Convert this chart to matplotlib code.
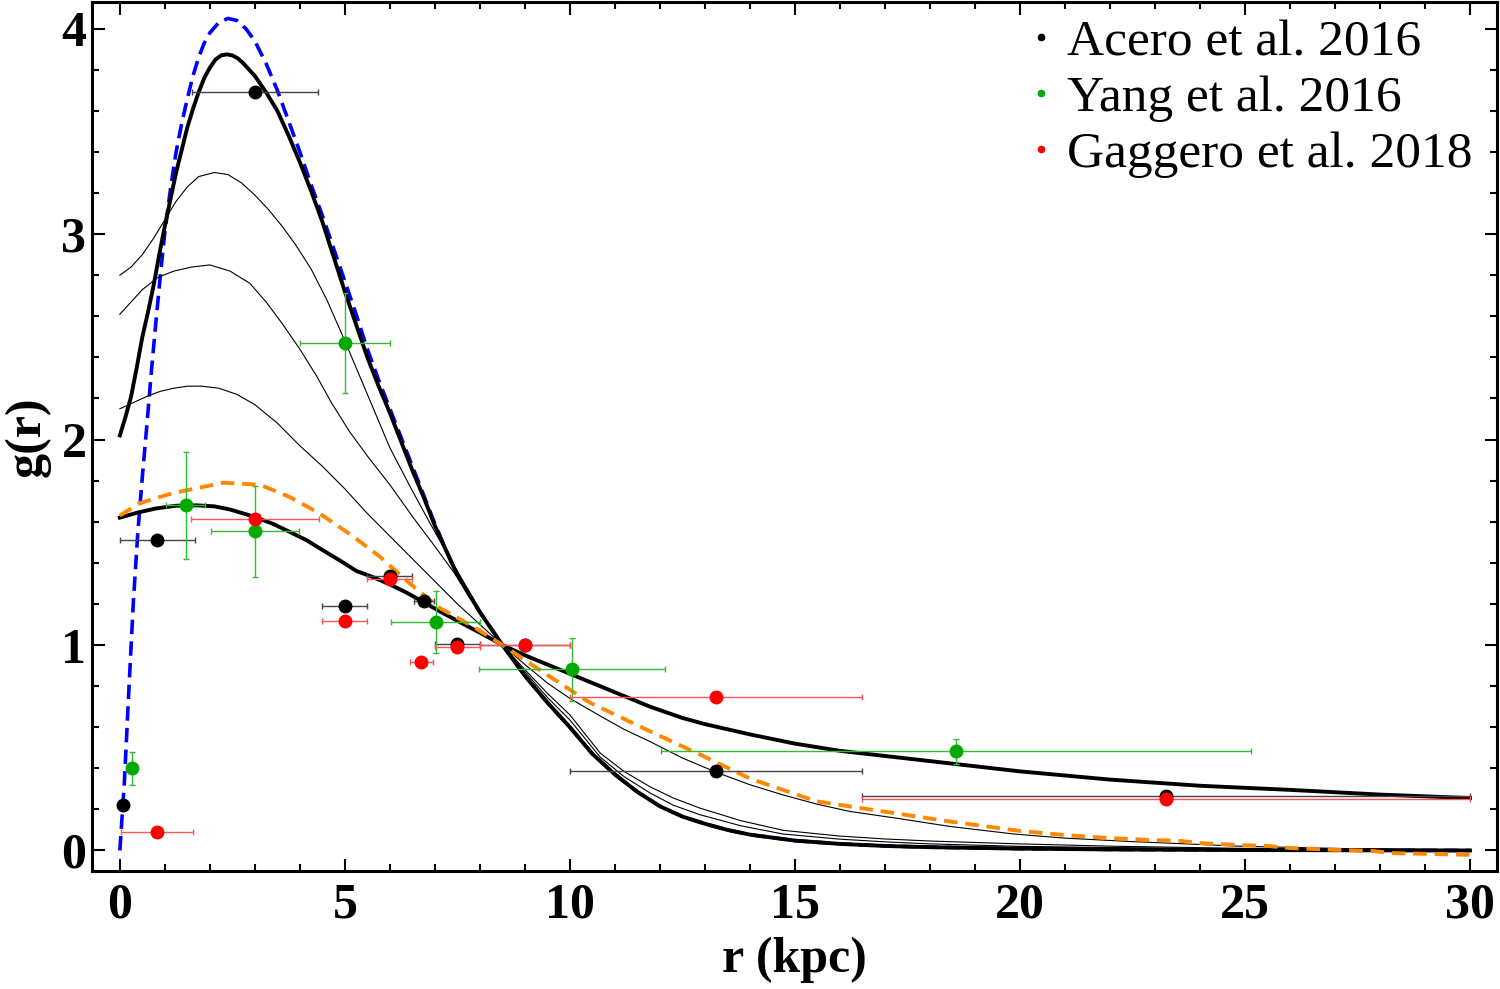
import numpy as np
import matplotlib.pyplot as plt
from matplotlib.ticker import MultipleLocator

plt.rcParams['font.family'] = ['Liberation Serif', 'DejaVu Serif']

# ---- data points ----
acero_r = [0.07, 0.83, 3.0, 5.0, 6.0, 6.75, 7.5, 9.0, 13.25, 23.25]
acero_g = [0.22, 1.51, 3.69, 1.19, 1.335, 1.215, 1.005, 1.0, 0.385, 0.263]
acero_xerr = [0.0, 0.83, 1.4, 0.5, 0.5, 0.22, 0.5, 1.0, 3.25, 6.75]

yang_r = [0.27, 1.46, 3.0, 5.0, 7.02, 10.05, 18.58]
yang_g = [0.40, 1.68, 1.553, 2.47, 1.112, 0.881, 0.483]
yang_xerr = [0.0, 0.44, 0.97, 1.0, 0.99, 2.06, 6.55]
yang_yerr = [0.08, 0.26, 0.22, 0.245, 0.15, 0.155, 0.06]

gagg_r = [0.83, 3.0, 5.0, 6.0, 6.7, 7.5, 9.0, 13.25, 23.25]
gagg_g = [0.088, 1.615, 1.118, 1.323, 0.917, 0.99, 1.0, 0.746, 0.249]
gagg_xerr = [0.8, 1.43, 0.5, 0.5, 0.25, 0.5, 1.0, 3.25, 6.75]

# ---- model curves ----
blue_r = [0, 0.1, 0.2, 0.3, 0.4, 0.5, 0.6, 0.7, 0.8, 0.9, 1.0, 1.125, 1.25, 1.375, 1.5,
          1.625, 1.75, 1.875, 2.0, 2.2, 2.4, 2.6, 2.8, 3.0, 3.25, 3.5, 3.75, 4.0, 4.25, 4.5,
          4.75, 5.0, 5.25, 5.5, 5.75, 6.0, 6.25, 6.5, 6.75, 7.0, 7.25, 7.5, 7.75, 8.0, 8.25,
          8.5, 8.75, 9.0, 9.25, 9.5, 9.75, 10, 10.5, 11, 11.5, 12, 12.5, 13, 13.5, 14, 15,
          16, 17, 18, 20, 22, 25, 30]
blue_g = [0, 0.33, 0.78, 1.21, 1.55, 1.82, 2.07, 2.33, 2.57, 2.80, 3.01, 3.22, 3.40, 3.54,
          3.66, 3.77, 3.86, 3.93, 3.98, 4.03, 4.05, 4.04, 4.00, 3.94, 3.83, 3.70, 3.55, 3.40,
          3.24, 3.09, 2.93, 2.77, 2.61, 2.44, 2.29, 2.15, 2.01, 1.87, 1.73, 1.59, 1.46, 1.34,
          1.25, 1.16, 1.08, 1.00, 0.925, 0.85, 0.785, 0.72, 0.66, 0.60, 0.47, 0.37, 0.285,
          0.215, 0.165, 0.13, 0.10, 0.077, 0.048, 0.032, 0.022, 0.016, 0.009, 0.005, 0.002,
          0.0]

peak_r = [0, 0.125, 0.25, 0.375, 0.5, 0.625, 0.75, 0.875, 1.0, 1.125, 1.25, 1.375, 1.5,
          1.625, 1.75, 1.875, 2.0, 2.125, 2.25, 2.375, 2.5, 2.625, 2.75, 2.875, 3.0, 3.25,
          3.5, 3.75, 4.0, 4.25, 4.5, 4.75, 5.0, 5.25, 5.5, 5.75, 6.0, 6.25, 6.5, 6.75, 7.0,
          7.25, 7.5, 7.75, 8.0, 8.25, 8.5, 8.75, 9.0, 9.25, 9.5, 9.75, 10, 10.5, 11, 11.5,
          12, 12.5, 13, 13.5, 14, 15, 16, 17, 18, 20, 22, 25, 30]
peak_g = [2.02, 2.11, 2.21, 2.35, 2.50, 2.62, 2.75, 2.90, 3.04, 3.17, 3.30, 3.41, 3.52, 3.61,
          3.69, 3.76, 3.81, 3.85, 3.87, 3.875, 3.87, 3.855, 3.83, 3.80, 3.77, 3.69, 3.60,
          3.48, 3.35, 3.21, 3.06, 2.89, 2.72, 2.56, 2.40, 2.26, 2.13, 1.99, 1.85, 1.72, 1.58,
          1.46, 1.34, 1.25, 1.16, 1.08, 1.00, 0.925, 0.85, 0.785, 0.72, 0.66, 0.60, 0.47,
          0.37, 0.285, 0.215, 0.165, 0.13, 0.10, 0.077, 0.048, 0.032, 0.022, 0.016, 0.009,
          0.005, 0.002, 0.0]

thinA_r = [0, 0.25, 0.5, 0.75, 1.0, 1.25, 1.5, 1.75, 2.1, 2.4, 2.7, 3.0, 3.3, 3.6, 3.9, 4.25,
           4.6, 5.0, 5.5, 6.0, 6.5, 7.0, 7.5, 8.0, 8.5, 9.0, 9.5, 10, 10.67, 11.2, 11.78,
           12.3, 12.89, 13.8, 14.74, 16, 17, 18, 20, 25, 30]
thinA_g = [2.80, 2.84, 2.90, 2.98, 3.07, 3.16, 3.23, 3.28, 3.30, 3.29, 3.25, 3.19, 3.12,
           3.04, 2.95, 2.83, 2.68, 2.48, 2.22, 1.96, 1.75, 1.55, 1.36, 1.17, 1.00, 0.87,
           0.745, 0.635, 0.455, 0.36, 0.28, 0.22, 0.174, 0.12, 0.08, 0.055, 0.042, 0.032,
           0.02, 0.006, 0.002]

thinB_r = [0, 0.25, 0.5, 0.85, 1.2, 1.6, 2.0, 2.45, 2.89, 3.25, 3.59, 4.0, 4.37, 4.7, 5.1,
           5.5, 6.0, 6.52, 7.0, 7.5, 8.0, 8.5, 9.0, 9.5, 10, 10.67, 11.2, 11.78, 12.3, 12.89,
           13.8, 14.74, 16, 17, 18, 20, 22, 25, 30]
thinB_g = [2.61, 2.67, 2.73, 2.79, 2.82, 2.84, 2.85, 2.82, 2.76, 2.67, 2.57, 2.44, 2.31,
           2.18, 2.04, 1.92, 1.78, 1.62, 1.48, 1.33, 1.16, 1.00, 0.88, 0.765, 0.66, 0.475,
           0.385, 0.31, 0.255, 0.206, 0.145, 0.098, 0.07, 0.056, 0.046, 0.032, 0.021, 0.01,
           0.003]

thinC_r = [0, 0.3, 0.6, 0.9, 1.2, 1.5, 1.81, 2.2, 2.6, 3.0, 3.5, 4.0, 4.5, 5.0, 5.5, 6.0,
           6.5, 7.0, 7.5, 8.0, 8.5, 9.0, 9.5, 10, 10.67, 11.2, 11.78, 12.5, 13.26, 14, 14.74,
           15.5, 16.22, 17.32, 18.44, 19.87, 21, 22.42, 24.97, 27.5, 30]
thinC_g = [2.15, 2.18, 2.21, 2.235, 2.25, 2.26, 2.26, 2.25, 2.22, 2.17, 2.08, 1.97, 1.87,
           1.76, 1.64, 1.53, 1.42, 1.31, 1.20, 1.10, 1.00, 0.905, 0.815, 0.74, 0.655, 0.59,
           0.53, 0.45, 0.38, 0.32, 0.27, 0.225, 0.19, 0.155, 0.117, 0.08, 0.06, 0.044,
           0.02, 0.008, 0.003]

flat_r = [0, 0.4, 0.81, 1.25, 1.7, 2.1, 2.44, 2.75, 3.04, 3.4, 3.78, 4.15, 4.52, 4.9, 5.26,
          5.63, 6.0, 6.37, 6.74, 7.1, 7.48, 8.0, 8.5, 9.0, 9.5, 10.0, 10.5, 11.0, 11.78,
          12.5, 13, 14, 15, 16, 17, 18, 19, 20, 22, 24, 26, 28, 30]
flat_g = [1.62, 1.645, 1.665, 1.678, 1.68, 1.675, 1.66, 1.64, 1.62, 1.59, 1.55, 1.51, 1.46,
          1.41, 1.36, 1.33, 1.295, 1.255, 1.21, 1.165, 1.12, 1.06, 1.00, 0.95, 0.905, 0.86,
          0.815, 0.77, 0.70, 0.645, 0.615, 0.565, 0.52, 0.485, 0.46, 0.435, 0.41, 0.385,
          0.345, 0.315, 0.295, 0.272, 0.255]

orange_r = [0, 0.44, 0.8, 1.19, 1.75, 2.3, 2.7, 3.11, 3.45, 3.78, 4.44, 5.11, 5.78, 6.44,
            7.11, 7.85, 8.5, 9.48, 10.44, 11.78, 12.89, 14.0, 15.48, 16.96, 18.44, 20, 21,
            22, 23, 23.5, 24, 25, 25.5, 26, 27, 27.8, 28.3, 30]
orange_g = [1.63, 1.69, 1.715, 1.74, 1.765, 1.79, 1.785, 1.78, 1.75, 1.72, 1.64, 1.54, 1.43,
            1.30, 1.18, 1.09, 1.00, 0.857, 0.72, 0.58, 0.467, 0.35, 0.239, 0.19, 0.141,
            0.095, 0.075, 0.06, 0.05, 0.048, 0.036, 0.025, 0.022, 0.012, 0.003, -0.002,
            -0.013, -0.021]

fig, ax = plt.subplots(figsize=(15, 9.89), dpi=100)
fig.subplots_adjust(left=0.0613, right=0.998, bottom=0.1193, top=0.998)

# curves
ax.plot(blue_r, blue_g, color='#0000ff', lw=2.6, ls=(0, (4, 2)), zorder=2)
ax.plot(thinA_r, thinA_g, color='black', lw=0.8, zorder=2)
ax.plot(thinB_r, thinB_g, color='black', lw=0.8, zorder=2)
ax.plot(thinC_r, thinC_g, color='black', lw=0.8, zorder=2)
ax.plot(peak_r, peak_g, color='black', lw=2.8, zorder=3)
ax.plot(flat_r, flat_g, color='black', lw=2.8, zorder=3)
ax.plot(orange_r, orange_g, color='#ff8800', lw=2.8, ls=(0, (3.5, 2)), zorder=3)

# data
ax.errorbar(acero_r, acero_g, xerr=acero_xerr, fmt='o', color='black', ms=9,
            ecolor='#444444', elinewidth=1.0, capsize=2.5, capthick=1.0, zorder=4,
            label='Acero et al. 2016')
ax.errorbar(yang_r, yang_g, xerr=yang_xerr, yerr=yang_yerr, fmt='o', color='#00aa00', ms=9,
            ecolor='#33bb33', elinewidth=1.0, capsize=2.5, capthick=1.0, zorder=4,
            label='Yang et al. 2016')
ax.errorbar(gagg_r, gagg_g, xerr=gagg_xerr, fmt='o', color='#ff0000', ms=9,
            ecolor='#ff5555', elinewidth=1.0, capsize=2.5, capthick=1.0, zorder=5,
            label='Gaggero et al. 2018')

ax.set_xlim(-0.62, 30.6)
ax.set_ylim(-0.1, 4.13)

ax.xaxis.set_major_locator(MultipleLocator(5))
ax.xaxis.set_minor_locator(MultipleLocator(1))
ax.yaxis.set_major_locator(MultipleLocator(1))
ax.yaxis.set_minor_locator(MultipleLocator(0.2))
ax.tick_params(which='both', direction='in', top=True, right=True, width=1.5)
ax.tick_params(which='major', length=9, labelsize=36, pad=8)
ax.tick_params(which='minor', length=5)
for lab in ax.get_xticklabels() + ax.get_yticklabels():
    lab.set_fontweight('bold')
ax.tick_params(axis='y', pad=4)
for s in ax.spines.values():
    s.set_linewidth(2.2)

ax.set_xlabel('r (kpc)', fontsize=36, fontweight='bold', labelpad=6)
ax.set_ylabel('g(r)', fontsize=36, fontweight='bold', labelpad=8)

handles, labels = ax.get_legend_handles_labels()
handles = [h[0] for h in handles]
leg = ax.legend(handles, labels, loc='upper right', frameon=False, fontsize=37,
                markerscale=0.5, handlelength=0.4, handletextpad=0.3, labelspacing=0.18,
                borderaxespad=0.0, bbox_to_anchor=(0.997, 1.004))

fig.savefig('out.png', dpi=100)
